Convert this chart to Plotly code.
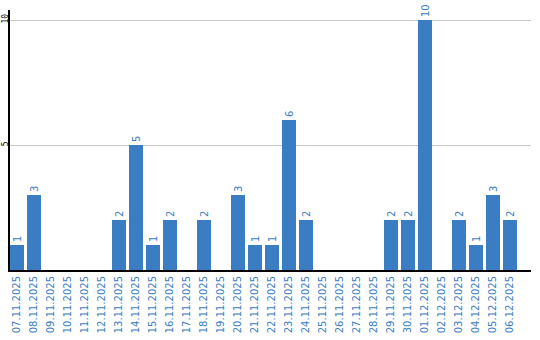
import plotly.graph_objects as go

dates = ["07.11.2025", "08.11.2025", "09.11.2025", "10.11.2025", "11.11.2025", "12.11.2025",
         "13.11.2025", "14.11.2025", "15.11.2025", "16.11.2025", "17.11.2025", "18.11.2025",
         "19.11.2025", "20.11.2025", "21.11.2025", "22.11.2025", "23.11.2025", "24.11.2025",
         "25.11.2025", "26.11.2025", "27.11.2025", "28.11.2025", "29.11.2025", "30.11.2025",
         "01.12.2025", "02.12.2025", "03.12.2025", "04.12.2025", "05.12.2025", "06.12.2025"]
counts = [1, 3, 0, 0, 0, 0, 2, 5, 1, 2, 0, 2, 0, 3, 1, 1, 6, 2, 0, 0, 0, 0, 2, 2, 10, 0, 2, 1, 3, 2]

blue = "#3b7dc2"
labels = [str(v) if v else "" for v in counts]

fig = go.Figure(go.Bar(
    x=list(range(len(dates))), y=counts, text=labels,
    textposition="outside", textangle=-90, cliponaxis=False,
    textfont=dict(family="DejaVu Sans", size=10, color=blue),
    marker=dict(color=blue, line=dict(width=0)),
))

fig.update_layout(
    width=540, height=340,
    margin=dict(l=10, r=9, t=10, b=70),
    paper_bgcolor="white", plot_bgcolor="white",
    bargap=3 / 17, showlegend=False,
    uniformtext=dict(minsize=8, mode="show"),
)
fig.update_xaxes(
    tickmode="array", tickvals=list(range(len(dates))), ticktext=dates,
    range=[-7 / 17, 514 / 17], tickangle=-90, automargin=False,
    tickfont=dict(family="DejaVu Sans", size=10, color=blue),
    showline=True, linecolor="black", linewidth=2, ticks="", showgrid=False,
    zeroline=False,
)
fig.update_yaxes(
    range=[0, 10.4], tickvals=[5, 10], tickangle=-90, automargin=False,
    ticklabelstandoff=-3,
    tickfont=dict(family="DejaVu Sans Mono", size=8, color="black"),
    showline=True, linecolor="black", linewidth=2, ticks="",
    showgrid=True, gridcolor="#c8c8c8", gridwidth=1, zeroline=False,
)

fig.write_html("out.html")
